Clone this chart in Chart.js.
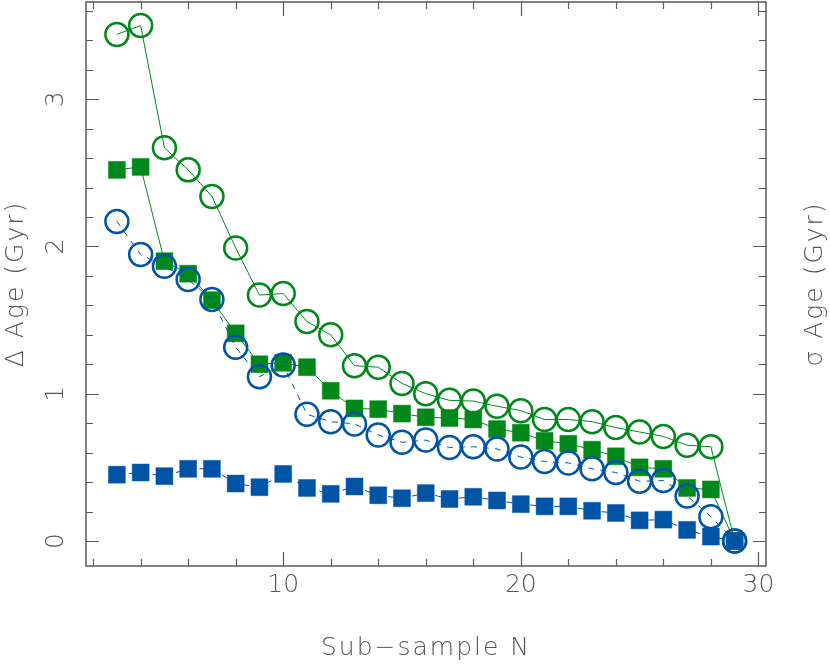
<!DOCTYPE html>
<html>
<head>
<meta charset="utf-8">
<script src="https://cdn.jsdelivr.net/npm/chart.js@4/dist/chart.umd.min.js"></script>
<style>
  html, body { margin: 0; padding: 0; background: #ffffff; }
  #wrap { width: 830px; height: 665px; }
</style>
</head>
<body>
<div id="wrap"><canvas id="c" width="830" height="665"></canvas></div>
<script>
// ---- data ----
const subSampleN = [3, 4, 5, 6, 7, 8, 9, 10, 11, 12, 13, 14, 15, 16, 17, 18, 19, 20, 21, 22, 23, 24, 25, 26, 27, 28, 29];
const greenOpen = [3.44, 3.50, 2.67, 2.52, 2.34, 1.99, 1.67, 1.68, 1.49, 1.40, 1.19, 1.18, 1.07, 1.00, 0.955, 0.95, 0.915, 0.885, 0.825, 0.825, 0.81, 0.77, 0.74, 0.71, 0.65, 0.64, 0.0];
const greenFilled = [2.52, 2.54, 1.90, 1.815, 1.635, 1.41, 1.20, 1.21, 1.18, 1.02, 0.90, 0.895, 0.865, 0.84, 0.835, 0.825, 0.76, 0.735, 0.68, 0.66, 0.62, 0.575, 0.50, 0.49, 0.36, 0.35, 0.0];
const blueOpen = [2.17, 1.945, 1.865, 1.775, 1.64, 1.315, 1.115, 1.195, 0.86, 0.81, 0.795, 0.72, 0.67, 0.685, 0.635, 0.64, 0.625, 0.57, 0.54, 0.53, 0.49, 0.465, 0.405, 0.41, 0.305, 0.165, 0.0];
const blueFilled = [0.45, 0.465, 0.44, 0.49, 0.49, 0.39, 0.365, 0.455, 0.36, 0.32, 0.37, 0.31, 0.29, 0.325, 0.285, 0.30, 0.275, 0.25, 0.235, 0.235, 0.205, 0.19, 0.14, 0.145, 0.075, 0.03, 0.0];
const xTickLabels = [10, 20, 30];
const yTickLabels = [0, 1, 2, 3];
const xTitle = 'Sub\u2212sample N';
const yTitleLeft = '\u0394 Age (Gyr)';
const yTitleRight = '\u03C3 Age (Gyr)';

const GREEN = '#00881a';
const BLUE = '#0054a6';
const TEXT = '#555555';
const FONT = "'DejaVu Sans', 'Liberation Sans', sans-serif";

const pts = (ys) => subSampleN.map((x, i) => ({ x: x, y: ys[i] }));

const framePlugin = {
  id: 'frame',
  afterDraw(chart) {
    const ctx = chart.ctx;
    const a = chart.chartArea;
    const xs = chart.scales.x, ys = chart.scales.y;
    ctx.save();
    // frame
    ctx.lineWidth = 1.5;
    ctx.strokeStyle = '#5a5a5a';
    ctx.strokeRect(a.left, a.top, a.right - a.left, a.bottom - a.top);
    // x ticks (inward, bottom and top)
    ctx.lineWidth = 1.2;
    for (let v = 2; v <= 30; v += 2) {
      const px = Math.round(xs.getPixelForValue(v)) + 0.5;
      const len = (v % 10 === 0) ? 14 : 7;
      ctx.beginPath();
      ctx.moveTo(px, a.bottom); ctx.lineTo(px, a.bottom - len);
      ctx.moveTo(px, a.top); ctx.lineTo(px, a.top + len);
      ctx.stroke();
    }
    // y ticks (inward, left and right)
    for (let k = 0; k <= 18; k++) {
      const v = k * 0.2;
      const py = Math.round(ys.getPixelForValue(v)) + 0.5;
      const len = (k % 5 === 0) ? 13 : 7;
      ctx.beginPath();
      ctx.moveTo(a.left, py); ctx.lineTo(a.left + len, py);
      ctx.moveTo(a.right, py); ctx.lineTo(a.right - len, py);
      ctx.stroke();
    }
    // tick labels
    ctx.fillStyle = TEXT;
    ctx.font = '300 25px ' + FONT;
    ctx.textAlign = 'center';
    ctx.textBaseline = 'middle';
    xTickLabels.forEach(v => {
      ctx.fillText(String(v), xs.getPixelForValue(v), 585);
    });
    yTickLabels.forEach(v => {
      ctx.save();
      ctx.translate(56, ys.getPixelForValue(v));
      ctx.rotate(-Math.PI / 2);
      ctx.fillText(String(v), 0, 0);
      ctx.restore();
    });
    // titles
    const midY = (a.top + a.bottom) / 2;
    ctx.letterSpacing = '2px';
    ctx.fillText(xTitle, (a.left + a.right) / 2, 648);
    ctx.save();
    ctx.translate(16, midY);
    ctx.rotate(-Math.PI / 2);
    ctx.fillText(yTitleLeft, 0, 0);
    ctx.restore();
    ctx.save();
    ctx.translate(815, midY);
    ctx.rotate(-Math.PI / 2);
    ctx.fillText(yTitleRight, 0, 0);
    ctx.restore();
    ctx.letterSpacing = '0px';
    ctx.restore();
  }
};

new Chart(document.getElementById('c'), {
  type: 'line',
  data: {
    datasets: [
      {
        label: 'blue open',
        data: pts(blueOpen),
        borderColor: BLUE,
        borderWidth: 1,
        borderDash: [6, 6],
        pointStyle: 'circle',
        pointRadius: 11.5,
        pointBorderWidth: 2.5,
        pointBorderColor: BLUE,
        pointBackgroundColor: 'rgba(0,0,0,0)',
        tension: 0
      },
      {
        label: 'blue filled',
        data: pts(blueFilled),
        borderColor: BLUE,
        borderWidth: 1,
        borderDash: [6, 6],
        pointStyle: 'rect',
        pointRadius: 12,
        pointBorderWidth: 1,
        pointBorderColor: 'rgba(0,84,166,0.45)',
        pointBackgroundColor: BLUE,
        tension: 0
      },
      {
        label: 'green filled',
        data: pts(greenFilled),
        borderColor: GREEN,
        borderWidth: 1,
        pointStyle: 'rect',
        pointRadius: 12,
        pointBorderWidth: 1,
        pointBorderColor: 'rgba(0,136,26,0.45)',
        pointBackgroundColor: GREEN,
        tension: 0
      },
      {
        label: 'green open',
        data: pts(greenOpen),
        borderColor: GREEN,
        borderWidth: 1,
        pointStyle: 'circle',
        pointRadius: 11.5,
        pointBorderWidth: 2.5,
        pointBorderColor: GREEN,
        pointBackgroundColor: 'rgba(0,0,0,0)',
        tension: 0
      }
    ]
  },
  options: {
    responsive: false,
    animation: false,
    devicePixelRatio: 1,
    clip: false,
    layout: { autoPadding: false, padding: { left: 86, right: 64, top: 2, bottom: 99 } },
    plugins: { legend: { display: false }, tooltip: { enabled: false } },
    scales: {
      x: { type: 'linear', min: 1.7, max: 30.32, display: false },
      y: { type: 'linear', min: -0.17, max: 3.66, display: false }
    }
  },
  plugins: [framePlugin]
});
</script>
</body>
</html>
